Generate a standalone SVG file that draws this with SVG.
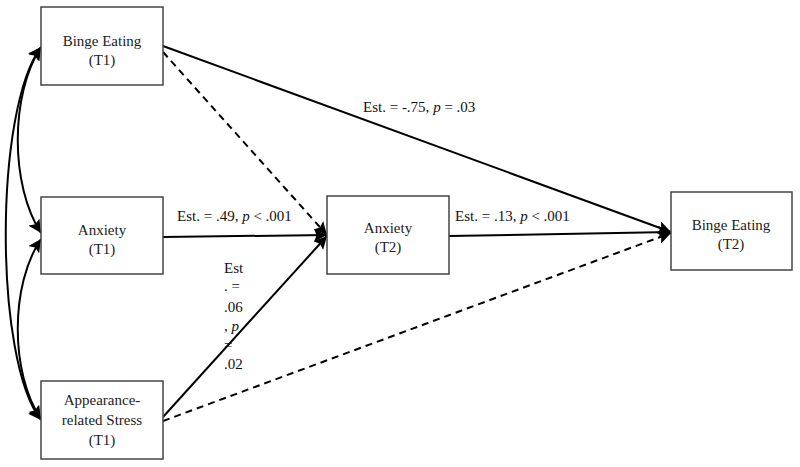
<svg xmlns="http://www.w3.org/2000/svg" width="800" height="467" viewBox="0 0 800 467">
<style>
.box{fill:#fff;stroke:#444;stroke-width:1.5}
.c{fill:none;stroke:#000;stroke-width:2}
.d{fill:none;stroke:#000;stroke-width:2;stroke-dasharray:7,5}
text{font-family:'Liberation Serif','Times New Roman',Times,'DejaVu Serif',serif;font-size:15px}
.n text{fill:#222;text-anchor:middle}
</style>
<defs>
<marker id="ah" viewBox="0 0 10 10" refX="10" refY="5" markerWidth="6.5" markerHeight="6.5" orient="auto-start-reverse">
<path d="M0,0 L10,5 L0,10 L2,5 z" fill="#000"/>
</marker>
</defs>
<rect width="800" height="467" fill="#fff"/>
<g id="connectors">
<path class="c" d="M41,47 C-6,110 -6,360 41,420" marker-start="url(#ah)" marker-end="url(#ah)"/>
<path class="c" d="M41,47 C10,95 10,185 41,233" marker-start="url(#ah)" marker-end="url(#ah)"/>
<path class="c" d="M41,239 C10,285 10,373 41,419" marker-start="url(#ah)" marker-end="url(#ah)"/>
<line class="c" x1="163" y1="46" x2="671" y2="232" marker-end="url(#ah)"/>
<line class="d" x1="163" y1="52" x2="327" y2="235" marker-end="url(#ah)"/>
<line class="c" x1="163" y1="237" x2="327" y2="235" marker-end="url(#ah)"/>
<line class="c" x1="163" y1="417" x2="327" y2="236" marker-end="url(#ah)"/>
<line class="d" x1="163" y1="421" x2="671" y2="233" marker-end="url(#ah)"/>
<line class="c" x1="449" y1="236" x2="671" y2="232" marker-end="url(#ah)"/>
</g>
<g class="n">
<g id="bingeT1">
<rect class="box" x="41" y="7" width="122" height="78"/>
<text x="102" y="46">Binge Eating</text>
<text x="102" y="65">(T1)</text>
</g>
<g id="anxietyT1">
<rect class="box" x="41" y="197" width="122" height="77"/>
<text x="102" y="235">Anxiety</text>
<text x="102" y="254">(T1)</text>
</g>
<g id="stressT1">
<rect class="box" x="41" y="381" width="122" height="78"/>
<text x="102" y="405">Appearance-</text>
<text x="102" y="425">related Stress</text>
<text x="102" y="445">(T1)</text>
</g>
<g id="anxietyT2">
<rect class="box" x="327" y="196" width="122" height="78"/>
<text x="388" y="233">Anxiety</text>
<text x="388" y="252">(T2)</text>
</g>
<g id="bingeT2">
<rect class="box" x="671" y="192" width="121" height="78"/>
<text x="731" y="230">Binge Eating</text>
<text x="731" y="249">(T2)</text>
</g>
</g>
<g id="labels" fill="#111">
<text x="363" y="112">Est. = -.75, <tspan font-style="italic">p</tspan> = .03</text>
<text x="177" y="221">Est. = .49, <tspan font-style="italic">p</tspan> &lt; .001</text>
<text x="455" y="221">Est. = .13, <tspan font-style="italic">p</tspan> &lt; .001</text>
<text x="224" y="273">Est</text>
<text x="224" y="291">. =</text>
<text x="224" y="312">.06</text>
<text x="224" y="331">, <tspan font-style="italic">p</tspan></text>
<text x="224" y="350">=</text>
<text x="224" y="369">.02</text>
</g>
</svg>
